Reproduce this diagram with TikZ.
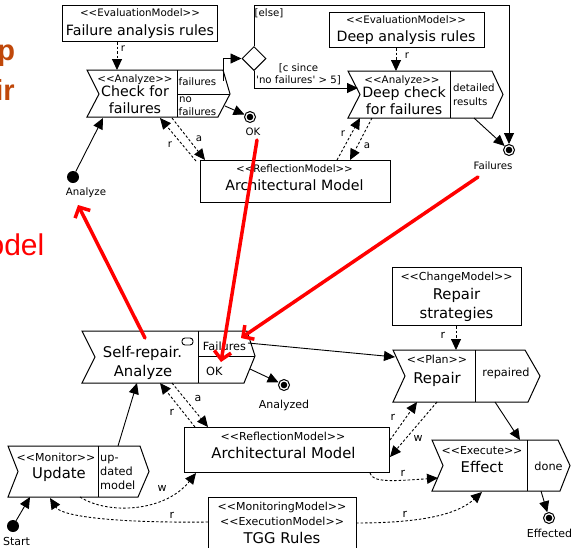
\documentclass[tikz,border=0pt]{standalone}
\usepackage{fontspec}
\setmainfont{DejaVu Sans}
\newfontfamily\plainfont{DejaVu Sans}
\newfontfamily\slidefont{Liberation Sans}
\usetikzlibrary{arrows.meta,shapes.geometric}
\definecolor{slideorange}{RGB}{192,72,10}
\newcommand\myopen{<<}
\newcommand\myclose{>>}
\tikzset{
 st/.style={inner sep=0pt, text height=7.5pt, text depth=0pt, font=\plainfont\fontsize{10.3}{12}\selectfont},
 stb/.style={inner sep=0pt, text height=8pt, text depth=0pt, font=\plainfont\fontsize{11}{13}\selectfont},
 mn/.style={inner sep=0pt, text height=10.4pt, text depth=0pt, font=\plainfont\fontsize{14.2}{17}\selectfont},
 mnb/.style={inner sep=0pt, text height=10.8pt, text depth=0pt, font=\plainfont\fontsize{14.8}{17}\selectfont},
 pin/.style={inner sep=0pt, text height=7.4pt, text depth=0pt, font=\plainfont\fontsize{10.2}{12}\selectfont},
 pinb/.style={inner sep=0pt, text height=8.2pt, text depth=0pt, font=\plainfont\fontsize{11.3}{13}\selectfont},
 lbl/.style={inner sep=0pt, text height=7.4pt, text depth=0pt, font=\plainfont\fontsize{10.2}{12}\selectfont},
 lblb/.style={inner sep=0pt, text height=8pt, text depth=0pt, font=\plainfont\fontsize{11}{13}\selectfont},
 box/.style={draw=black, line width=1pt, rectangle, anchor=north west, inner sep=0pt},
 shp/.style={draw=black, line width=1pt, line join=miter},
 flow/.style={line width=0.9pt, -{Triangle[length=11pt,width=10pt]}},
 dep/.style={line width=0.9pt, dash pattern=on 2.5pt off 2pt, -{Triangle[length=11pt,width=10pt]}},
 redarr/.style={line width=3.5pt, red, line cap=round, -{Straight Barb[length=8pt,width=17pt]}},
 finalnode/.style={circle, draw=black, line width=1pt, minimum size=11pt, inner sep=0pt},
 initnode/.style={circle, fill=black, minimum size=12pt, inner sep=0pt},
}
\begin{document}
\begin{tikzpicture}[x=1pt,y=-1pt]
\useasboundingbox (0,0) rectangle (572,547);
\fill[white] (0,0) rectangle (572,547);

% ---- slide fragments at the left edge
\node[anchor=base east, inner sep=0pt, text=slideorange, font=\slidefont\bfseries\fontsize{29}{34}\selectfont] (tp) at (15.2,60) {p};
\node[anchor=base east, inner sep=0pt, text=slideorange, font=\slidefont\bfseries\fontsize{29}{34}\selectfont] (tir) at (14.8,100) {ir};
\node[anchor=base east, inner sep=0pt, text=red, font=\slidefont\fontsize{30}{34}\selectfont] (todel) at (44.5,255) {odel};

% ================= TOP DIAGRAM =================
\node[box, minimum width=155pt, minimum height=36pt] (evalA) at (62,5) {};
\node[st] (evalAs) at (140,13) {\myopen EvaluationModel\myclose};
\node[mn] (evalAt) at (140,30) {Failure analysis rules};

\node[box, minimum width=155pt, minimum height=35pt] (evalB) at (329,12) {};
\node[st] (evalBs) at (406,19.5) {\myopen EvaluationModel\myclose};
\node[mn] (evalBt) at (406,36) {Deep analysis rules};

\node[box, minimum width=190pt, minimum height=42pt] (archA) at (200,160) {};
\node[st] (archAs) at (294.5,169) {\myopen ReflectionModel\myclose};
\node[mn] (archAt) at (294.5,185) {Architectural Model};

% Check for failures
\draw[shp] (87,70) -- (223,70) -- (230,94) -- (218,117) -- (87,117) -- (99,94) -- cycle;
\draw[shp] (177,70) -- (177,117);
\draw[shp] (177,94) -- (230,94);
\node[st] (chks) at (135,79) {\myopen Analyze\myclose};
\node[mn] (chkt1) at (135,91.5) {Check for};
\node[mn] (chkt2) at (135,108) {failures};
\node[pin] (chkp1) at (197.5,82) {failures};
\node[pin, anchor=west] (chkp2) at (179,98.5) {no};
\node[pin] (chkp3) at (197.5,112) {failures};

% Deep check
\draw[shp] (348,71) -- (492,71) -- (503,94.5) -- (492,118) -- (348,118) -- (360,94.5) -- cycle;
\draw[shp] (450,71) -- (450,118);
\node[st] (deeps) at (402,79.5) {\myopen Analyze\myclose};
\node[mn] (deept1) at (404,92) {Deep check};
\node[mn] (deept2) at (404,109) {for failures};
\node[pin, anchor=west] (deepp1) at (453,88) {detailed};
\node[pin, anchor=west] (deepp2) at (453,102) {results};

% decision
\node[diamond, draw=black, line width=1pt, minimum width=24pt, minimum height=24pt, inner sep=0pt] (dia) at (254,58.5) {};
\node[lbl] (elsel) at (269,13) {[else]};
\node[lbl] (guard1) at (298.5,68) {[c since};
\node[lbl] (guard2) at (298.5,80) {'no failures' > 5]};

% final / initial nodes
\node[finalnode] (okF) at (250,117) {};
\fill (okF.center) circle (3.3pt);
\node[lbl] (okl) at (253,132) {OK};
\node[finalnode] (failF) at (509,150) {};
\fill (failF.center) circle (3.3pt);
\node[lbl] (faill) at (493,166) {Failures};
\node[initnode] (iniA) at (73,177) {};
\node[lbl] (inil) at (86,192) {Analyze};

% top connectors
\coordinate (chkIn) at (117,70);
\draw[dep] (evalA.south -| chkIn) -- (chkIn);
\node[lbl] (lr1) at (123,48) {r};
\coordinate (deepIn) at (396,71);
\draw[dep] (evalB.south -| deepIn) -- (deepIn);
\node[lbl] (lr2) at (407,55) {r};

\coordinate (chkFail) at (223.5,81);
\draw[flow] (chkFail) |- (dia.west);
\coordinate (elseC) at (509,5);
\draw[flow] (dia.north) |- (elseC) -- (failF);
\coordinate (deepL) at (358,88);
\draw[flow] (dia.south) |- (deepL);

\coordinate (chkNo) at (225,106);
\draw[flow] (chkNo) -- (okF);
\coordinate (deepOut) at (474,118);
\draw[flow] (deepOut) -- (failF);

\coordinate (chkA1) at (172,118);
\coordinate (archA1) at (205,160);
\coordinate (archA2) at (196,161);
\coordinate (chkA2) at (160,118);
\draw[dep] (chkA1) -- (archA1);
\draw[dep] (archA2) -- (chkA2);
\node[lbl] (la1) at (199,138) {a};
\node[lbl] (lr3) at (170,144) {r};

\coordinate (archA3) at (337,160);
\coordinate (deepA1) at (360,118);
\coordinate (deepA2) at (372,118);
\coordinate (archA4) at (350,160);
\draw[dep] (archA3) -- (deepA1);
\draw[dep] (deepA2) -- (archA4);
\node[lbl] (lr4) at (343,133) {r};
\node[lbl] (la2) at (367,145) {a};

\coordinate (chkB) at (103,118);
\draw[flow] (iniA) -- (chkB);

% ================= BOTTOM DIAGRAM =================
\node[box, minimum width=129pt, minimum height=58pt] (changeM) at (392,267) {};
\node[stb] (changeMs) at (456.5,276) {\myopen ChangeModel\myclose};
\node[mnb] (changeMt1) at (456.5,294) {Repair};
\node[mnb] (changeMt2) at (456.5,313) {strategies};

\node[box, minimum width=205pt, minimum height=45pt] (archB) at (184,427) {};
\node[stb] (archBs) at (283,436) {\myopen ReflectionModel\myclose};
\node[mnb] (archBt) at (283.5,453) {Architectural Model};

\node[box, minimum width=148pt, minimum height=56pt] (tgg) at (208,497) {};
\node[stb] (tggs1) at (282,506) {\myopen MonitoringModel\myclose};
\node[stb] (tggs2) at (282,521) {\myopen ExecutionModel\myclose};
\node[mnb] (tggt) at (282,538) {TGG Rules};

% Self-repair Analyze
\draw[shp] (82,331) -- (247,331) -- (255,356) -- (244,383) -- (82,383) -- (95,357) -- cycle;
\draw[shp] (198,331) -- (198,383);
\draw[shp] (198,356) -- (255,356);
\draw[line width=0.9pt, rounded corners=3pt] (182,338) rectangle (193,345);
\node[mnb] (srt1) at (142.5,352) {Self-repair.};
\node[mnb] (srt2) at (143,371) {Analyze};
\node[pinb] (srp1) at (224.5,346) {Failures};
\node[pinb, anchor=west] (srp2) at (206,371.5) {OK};

% Plan Repair
\draw[shp] (393,350) -- (525,350) -- (540,376) -- (528,402) -- (393,402) -- (405,376) -- cycle;
\draw[shp] (475,350) -- (475,402);
\node[stb] (plans) at (437,359) {\myopen Plan\myclose};
\node[mnb] (plant) at (437,378) {Repair};
\node[pinb] (planp) at (506,372) {repaired};

% Execute Effect
\draw[shp] (432,440) -- (558,440) -- (570,465.5) -- (560,491) -- (432,491) -- (443,465.5) -- cycle;
\draw[shp] (527,440) -- (527,491);
\node[stb] (effs) at (482,450) {\myopen Execute\myclose};
\node[mnb] (efft) at (482,467) {Effect};
\node[pinb] (effp) at (548.5,466) {done};

% Monitor Update
\draw[shp] (8,446) -- (140,446) -- (149,471.5) -- (138,497) -- (8,497) -- (18,471.5) -- cycle;
\draw[shp] (98,446) -- (98,497);
\node[stb] (upds) at (56,457) {\myopen Monitor\myclose};
\node[mnb] (updt) at (59,473) {Update};
\node[pinb, anchor=west] (updp1) at (100,457) {up-};
\node[pinb, anchor=west] (updp2) at (100,471) {dated};
\node[pinb, anchor=west] (updp3) at (100,485) {model};

% final / initial nodes bottom
\node[finalnode] (anF) at (284,385) {};
\fill (anF.center) circle (3.3pt);
\node[lblb] (anl) at (284,404) {Analyzed};
\node[finalnode] (effF) at (549,518) {};
\fill (effF.center) circle (3.3pt);
\node[lblb] (effl) at (549.5,533) {Effected};
\node[initnode] (startI) at (13,526) {};
\node[lblb] (startl) at (16.5,541) {Start};

% bottom connectors
\coordinate (srFail) at (248,343);
\coordinate (planL) at (395,357);
\draw[flow] (srFail) -- (planL);
\coordinate (srOK) at (250,369);
\draw[flow] (srOK) -- (anF);
\coordinate (planIn) at (456,350);
\draw[dep] (changeM.south -| planIn) -- (planIn);
\node[lblb] (lr5) at (443,334) {r};
\coordinate (planOut) at (495,402);
\coordinate (effIn) at (520,440);
\draw[flow] (planOut) -- (effIn);

\coordinate (archB1) at (390,440);
\coordinate (planA1) at (417,402);
\coordinate (planA2) at (437,402);
\coordinate (archB2) at (390,457);
\draw[dep] (archB1) -- (planA1);
\draw[dep] (planA2) -- (archB2);
\node[lblb] (lr6) at (393,416) {r};
\node[lblb] (lw1) at (418,437) {w};

\coordinate (effOut) at (541,491);
\draw[flow] (effOut) -- (effF);

\coordinate (srA1) at (172,383);
\coordinate (archB3) at (208,427);
\coordinate (archB4) at (195,427);
\coordinate (srA2) at (160,383);
\draw[dep] (srA1) -- (archB3);
\draw[dep] (archB4) -- (srA2);
\node[lblb] (la3) at (198,397) {a};
\node[lblb] (lr7) at (172,411) {r};

\coordinate (updOut) at (118,446);
\coordinate (srIn) at (137,383);
\draw[flow] (updOut) -- (srIn);
\coordinate (updIn) at (30,497);
\draw[flow] (startI) -- (updIn);

\coordinate (updW) at (80,497);
\coordinate (archB5) at (196,473);
\draw[dep] (updW) .. controls (108,515) and (165,512) .. (archB5);
\node[lblb] (lw2) at (162,487) {w};

\coordinate (tggL) at (208,522);
\coordinate (updR) at (50,498);
\draw[dep] (tggL) .. controls (120,523) and (62,517) .. (updR);
\node[lblb] (lr8) at (172,514) {r};

\coordinate (tggR) at (356,523);
\coordinate (effB) at (482,492);
\draw[dep] (tggR) .. controls (430,523) and (460,512) .. (effB);
\node[lblb] (lr9) at (405,513) {r};

\coordinate (archB6) at (370,473);
\coordinate (effL) at (438,478);
\draw[dep] (archB6) .. controls (372,483) and (395,481) .. (effL);
\node[lblb] (lr10) at (403,472) {r};

% ================= RED ARROWS =================
\coordinate (rs1) at (145,338);
\coordinate (re1) at (78,205);
\draw[redarr] (rs1) -- (re1);
\coordinate (rs2) at (257,140);
\coordinate (re2) at (221,362);
\draw[redarr] (rs2) -- (re2);
\coordinate (rs3) at (478,177);
\coordinate (re3) at (241,338);
\draw[redarr] (rs3) -- (re3);
\end{tikzpicture}
\end{document}
